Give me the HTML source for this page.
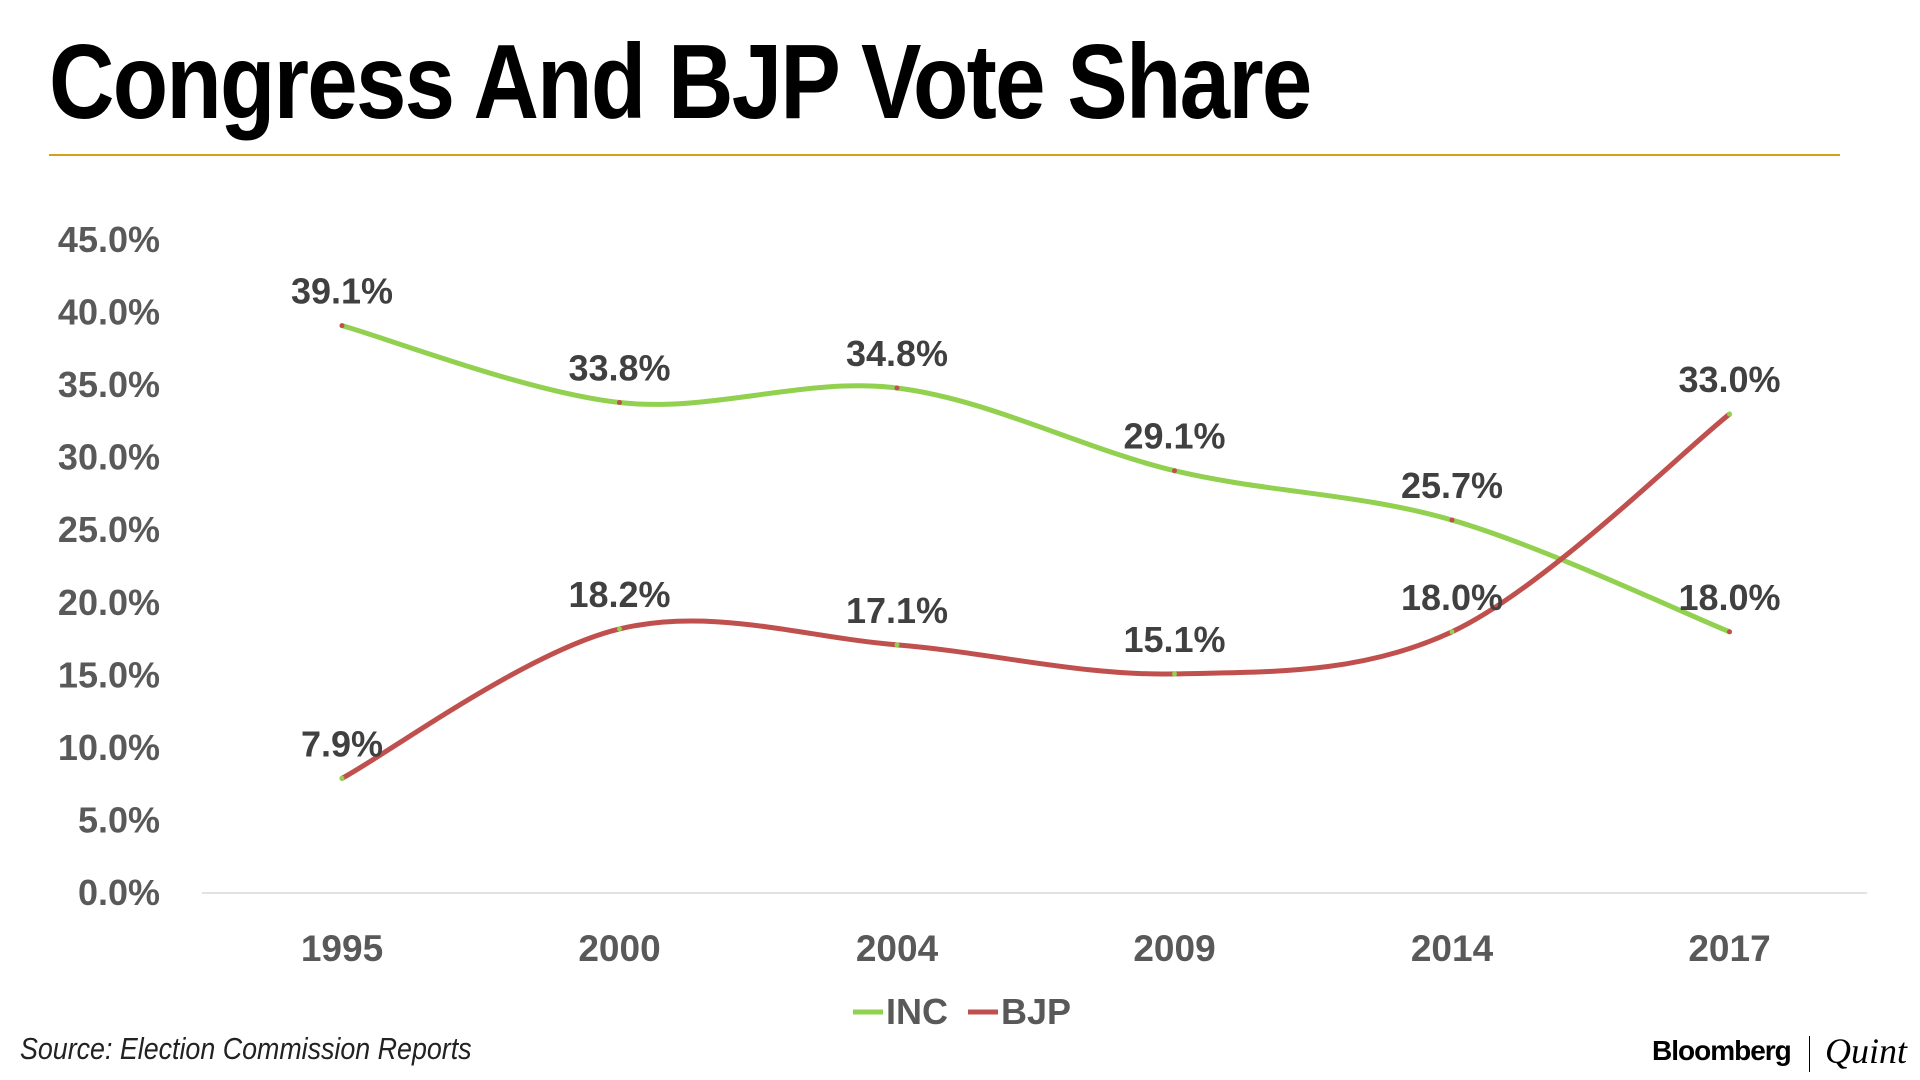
<!DOCTYPE html>
<html><head><meta charset="utf-8">
<style>
body{margin:0;width:1920px;height:1080px;background:#fff;overflow:hidden;position:relative;font-family:"Liberation Sans",sans-serif}
#title{position:absolute;left:49px;top:22px;font-size:106px;font-weight:bold;color:#000;white-space:nowrap;transform-origin:0 0;transform:scaleX(0.855);letter-spacing:-2px}
#rule{position:absolute;left:49px;top:154px;width:1791px;height:2px;background:#d4a017}
#source{position:absolute;left:20px;top:1031px;font-size:31px;font-style:italic;color:#222;white-space:nowrap;transform-origin:0 0;transform:scaleX(0.865)}
#brand{position:absolute;left:1652px;top:1035px;font-size:28px;font-weight:bold;color:#000;letter-spacing:-1px}
#sep{position:absolute;left:1809px;top:1036px;width:1px;height:36px;background:#000}
#quint{position:absolute;left:1825px;top:1030px;font-family:"Liberation Serif",serif;font-style:italic;font-size:36px;color:#000}
svg{position:absolute;left:0;top:0}
</style></head><body>
<div id="title">Congress And BJP Vote Share</div>
<div id="rule"></div>
<div id="source">Source: Election Commission Reports</div>
<div id="brand">Bloomberg</div>
<div id="sep"></div>
<div id="quint">Quint</div>
<svg id="chart" width="1920" height="1080"></svg>
<script>
const categories=["1995","2000","2004","2009","2014","2017"];
const incValues=[39.1,33.8,34.8,29.1,25.7,18.0];
const bjpValues=[7.9,18.2,17.1,15.1,18.0,33.0];
const yTicks=[0,5,10,15,20,25,30,35,40,45];
const NS="http://www.w3.org/2000/svg";
const svg=document.getElementById('chart');
const x0=342,dx=277.5,yBase=893,yTop=240;
const X=i=>x0+i*dx;
const Y=v=>yBase-(v/45)*(yBase-yTop);
function mk(t,a){const e=document.createElementNS(NS,t);for(const k in a)e.setAttribute(k,a[k]);svg.appendChild(e);return e;}
const grid=mk('line',{x1:202,x2:1867,y1:Y(0),y2:Y(0),stroke:'#d9d9d9','stroke-width':1.5});


yTicks.forEach(v=>{const t=mk('text',{x:160,y:Y(v)+12,'text-anchor':'end','font-size':36,'font-weight':'bold',fill:'#595959'});
t.textContent=v.toFixed(1)+'%';

});
categories.forEach((c,i)=>{const t=mk('text',{x:X(i),y:961,'text-anchor':'middle','font-size':37,'font-weight':'bold',fill:'#595959'});
t.textContent=c;

});
function path(vals){const p=vals.map((v,i)=>[X(i),Y(v)]);let d='M'+p[0][0]+','+p[0][1];const k=0.5/3*2;
for(let i=0;i<p.length-1;i++){const a=p[i-1]||p[i],b=p[i],c=p[i+1],e=p[i+2]||c;
d+=` C${b[0]+(c[0]-a[0])*k/2},${b[1]+(c[1]-a[1])*k/2} ${c[0]-(e[0]-b[0])*k/2},${c[1]-(e[1]-b[1])*k/2} ${c[0]},${c[1]}`;}return d;}
function series(vals,color,name,dotColor){
const l=mk('path',{d:path(vals),fill:'none',stroke:color,'stroke-width':5,'stroke-linecap':'round'});


vals.forEach((v,i)=>{const c=mk('circle',{cx:X(i),cy:Y(v),r:2.5,fill:dotColor});


const t=mk('text',{x:X(i),y:Y(v)-22,'text-anchor':'middle','font-size':36,'font-weight':'bold',fill:'#404040'});
t.textContent=v.toFixed(1)+'%';

});}
series(incValues,'#92d050','inc','#c0504d');
series(bjpValues,'#c0504d','bjp','#92d050');
[['INC','#92d050',853],['BJP','#c0504d',968]].forEach(([n,c,x])=>{
const l=mk('line',{x1:x,x2:x+30,y1:1012,y2:1012,stroke:c,'stroke-width':5});


const t=mk('text',{x:x+33,y:1024,'font-size':36,'font-weight':'bold',fill:'#595959'});
t.textContent=n;

});
</script>
</body></html>
